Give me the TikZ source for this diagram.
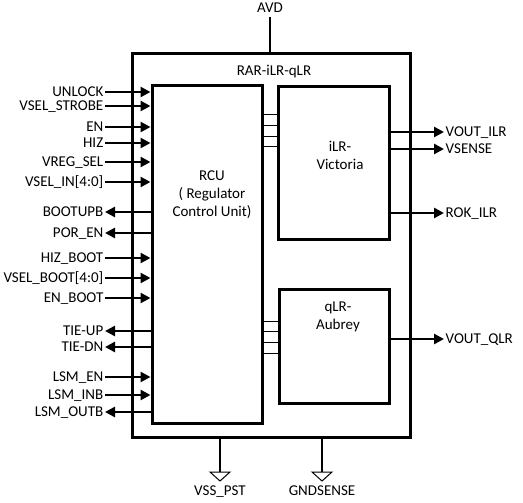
\documentclass[tikz,border=0pt]{standalone}
\usepackage{fontspec}
\setmainfont{Carlito}
\usetikzlibrary{arrows.meta}
\tikzset{
  blk/.style={draw, line width=3pt, inner sep=0pt},
  lbl/.style={inner xsep=1.5pt, inner ysep=0pt, text height=9.6pt, text depth=0pt, font=\fontsize{15}{18}\selectfont},
  sig/.style={line width=2.6pt, -{Triangle[length=10pt,width=10pt]}},
  bus/.style={line width=1pt},
  gnd/.style={line width=2pt}
}
\begin{document}
\begin{tikzpicture}[x=1pt,y=-1pt]
              \useasboundingbox (0,0) rectangle (523,503);
              % blocks
              \node[blk, minimum width=278pt, minimum height=383pt] (chip) at (271,245.5) {};
              \node[blk, minimum width=110pt, minimum height=337pt] (rcu) at (207,254.5) {};
              \node[blk, minimum width=111pt, minimum height=152pt] (ilr) at (333.5,163) {};
              \node[blk, minimum width=110pt, minimum height=114pt] (qlr) at (334,346) {};
              \node[lbl] (title) at (274,71) {RAR-iLR-qLR};
              \node[lbl, align=center] (rcutxt) at (212,212) {RCU\\( Regulator\\ Control Unit)};
              \node[lbl, align=center] (ilrtxt) at (340,165) {iLR-\\Victoria};
              \node[lbl, align=center] (qlrtxt) at (338,325) {qLR-\\Aubrey};
              % supply
              \node[lbl] (avd) at (270,8) {AVD};
              \draw[line width=2pt] (avd.south) ++(0,4) -- (avd.south |- chip.north);
              \coordinate (vss) at (220,472);
              \coordinate (gsense) at (322,472);
              \draw[gnd] (vss |- chip.south) -- (vss);
              \draw[line width=1pt] (vss) ++(-10,0) -- ++(20,0) -- ++(-10,9) -- cycle;
              \draw[gnd] (gsense |- chip.south) -- (gsense);
              \draw[line width=1pt] (gsense) ++(-10,0) -- ++(20,0) -- ++(-10,9) -- cycle;
              \node[lbl] (vsslbl) at (220,491) {VSS\_PST};
              \node[lbl] (gsenselbl) at (322,491) {GNDSENSE};
              % left side inputs
              \node[lbl, anchor=east] (unlock) at (105,92) {UNLOCK};
              \node[lbl, anchor=east] (strobe) at (105,106) {VSEL\_STROBE};
              \node[lbl, anchor=east] (en) at (105,127) {EN};
              \node[lbl, anchor=east] (hiz) at (105,143) {HIZ};
              \node[lbl, anchor=east] (vregsel) at (105,162) {VREG\_SEL};
              \node[lbl, anchor=east] (vselin) at (105,182) {VSEL\_IN[4:0]};
              \node[lbl, anchor=east] (hizboot) at (105,258) {HIZ\_BOOT};
              \node[lbl, anchor=east] (vselboot) at (105,278) {VSEL\_BOOT[4:0]};
              \node[lbl, anchor=east] (enboot) at (105,298) {EN\_BOOT};
              \node[lbl, anchor=east] (lsmen) at (105,377) {LSM\_EN\ };
              \node[lbl, anchor=east] (lsminb) at (105,395) {LSM\_INB};
              \draw[sig] (unlock.east) -- (unlock.east -| rcu.west);
              \draw[sig] (strobe.east) -- (strobe.east -| rcu.west);
              \draw[sig] (en.east) -- (en.east -| rcu.west);
              \draw[sig] (hiz.east) -- (hiz.east -| rcu.west);
              \draw[sig] (vregsel.east) -- (vregsel.east -| rcu.west);
              \draw[sig] (vselin.east) -- (vselin.east -| rcu.west);
              \draw[sig] (hizboot.east) -- (hizboot.east -| rcu.west);
              \draw[sig] (vselboot.east) -- (vselboot.east -| rcu.west);
              \draw[sig] (enboot.east) -- (enboot.east -| rcu.west);
              \draw[sig] (lsmen.east) -- (lsmen.east -| rcu.west);
              \draw[sig] (lsminb.east) -- (lsminb.east -| rcu.west);
              % left side outputs
              \node[lbl, anchor=east] (bootupb) at (105,212) {BOOTUPB};
              \node[lbl, anchor=east] (poren) at (105,233) {POR\_EN};
              \node[lbl, anchor=east] (tieup) at (105,331) {TIE-UP};
              \node[lbl, anchor=east] (tiedn) at (105,347) {TIE-DN};
              \node[lbl, anchor=east] (lsmoutb) at (105,412) {LSM\_OUTB};
              \draw[sig] (bootupb.east -| rcu.west) -- (bootupb.east);
              \draw[sig] (poren.east -| rcu.west) -- (poren.east);
              \draw[sig] (tieup.east -| rcu.west) -- (tieup.east);
              \draw[sig] (tiedn.east -| rcu.west) -- (tiedn.east);
              \draw[sig] (lsmoutb.east -| rcu.west) -- (lsmoutb.east);
              % internal buses
              \draw[bus] (rcu.east |- 0,115) -- (ilr.west |- 0,115);
              \draw[bus] (rcu.east |- 0,126) -- (ilr.west |- 0,126);
              \draw[bus] (rcu.east |- 0,137) -- (ilr.west |- 0,137);
              \draw[bus] (rcu.east |- 0,147) -- (ilr.west |- 0,147);
              \draw[bus] (rcu.east |- 0,321) -- (qlr.west |- 0,321);
              \draw[bus] (rcu.east |- 0,331) -- (qlr.west |- 0,331);
              \draw[bus] (rcu.east |- 0,342) -- (qlr.west |- 0,342);
              \draw[bus] (rcu.east |- 0,353) -- (qlr.west |- 0,353);
              % right side outputs
              \node[lbl, anchor=west] (voutilr) at (444,132) {VOUT\_ILR};
              \node[lbl, anchor=west] (vsense) at (444,149) {VSENSE};
              \node[lbl, anchor=west] (rokilr) at (444,213) {ROK\_ILR};
              \node[lbl, anchor=west] (voutqlr) at (444,339) {VOUT\_QLR};
              \draw[sig] (voutilr.west -| ilr.east) -- (voutilr.west);
              \draw[sig] (vsense.west -| ilr.east) -- (vsense.west);
              \draw[sig] (rokilr.west -| ilr.east) -- (rokilr.west);
              \draw[sig] (voutqlr.west -| qlr.east) -- (voutqlr.west);
            \end{tikzpicture}
\end{document}
